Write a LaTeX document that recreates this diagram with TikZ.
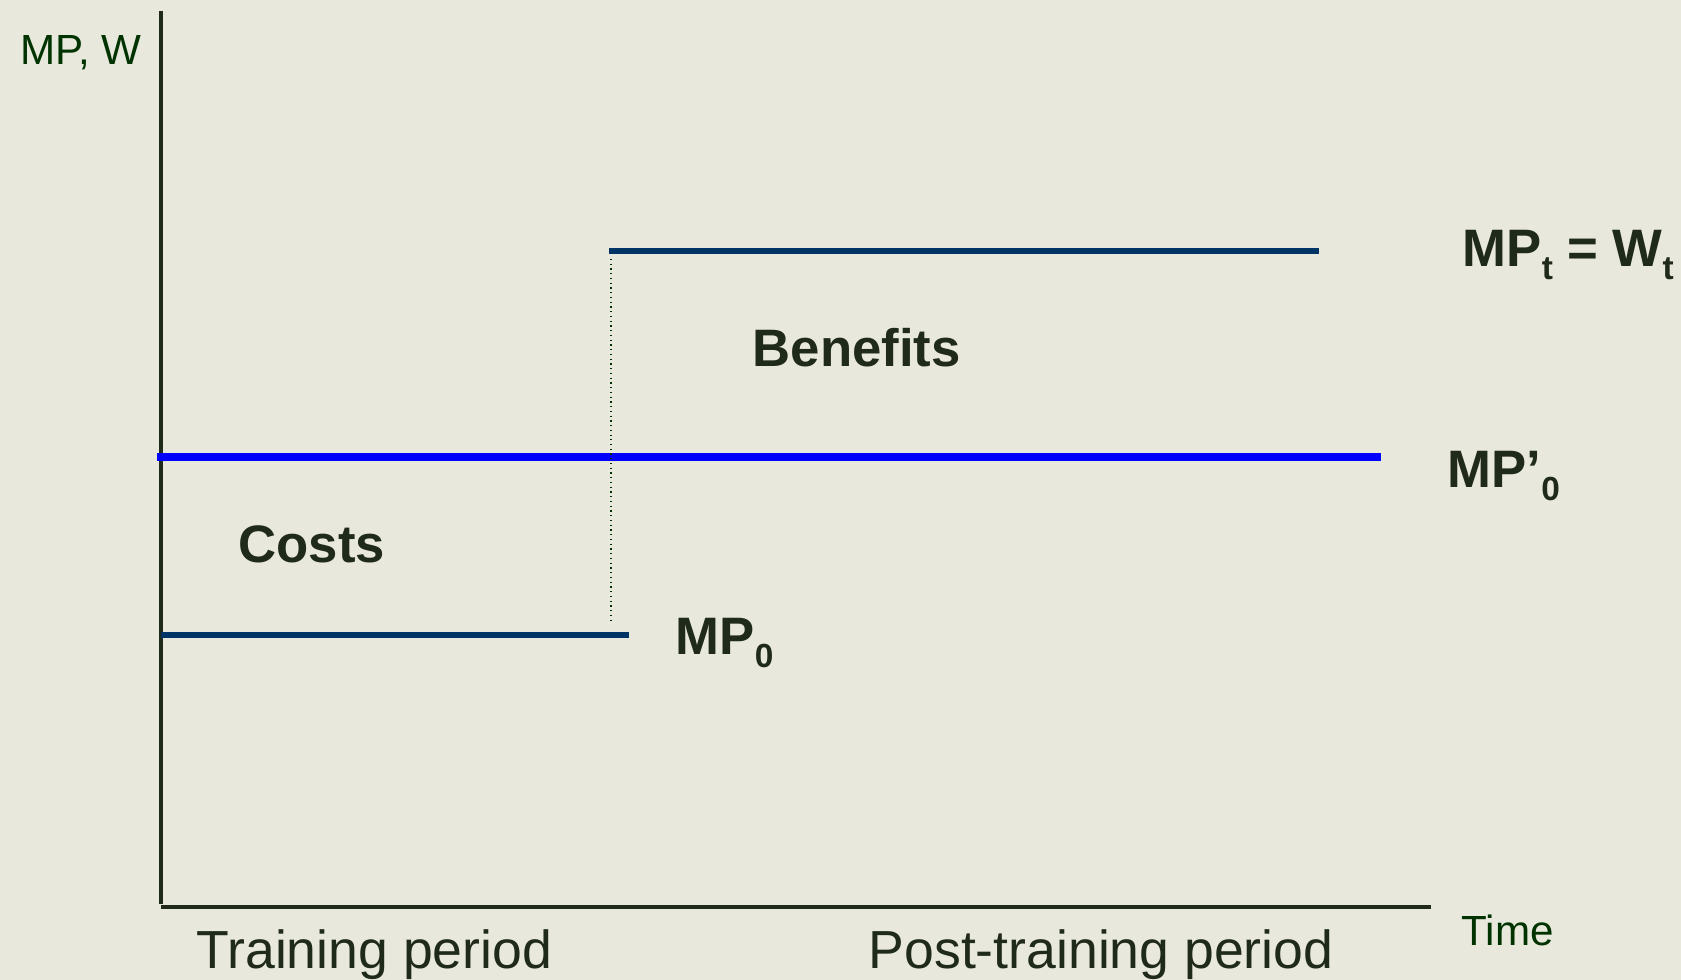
\documentclass[tikz,border=0pt]{standalone}
\usepackage{fontspec}
\setmainfont{Liberation Sans}
\usepackage{tikz}

\definecolor{bg}{HTML}{E8E8DC}
\definecolor{navy}{HTML}{003366}
\definecolor{dkgreen}{HTML}{003300}
\definecolor{ink}{HTML}{1F2A1A}
\newcommand{\lowsub}[1]{\raisebox{-7.4pt}{\fontsize{19}{19}\selectfont #1}}

\begin{document}
\begin{tikzpicture}[x=0.02cm, y=-0.02cm, thick,
	lab/.style={anchor=base west, inner sep=0pt, text=ink, font=\fontsize{30.5}{30.5}\selectfont},
	boldlab/.style={lab, font=\bfseries\fontsize{30}{30}\selectfont},
	axlab/.style={lab, text=dkgreen, font=\fontsize{24}{24}\selectfont}]
		\fill[bg] (0,0) rectangle (1681,980);
		\useasboundingbox (0,0) rectangle (1681,980);

		\coordinate (ytop) at (161,11);
		\coordinate (ybot) at (161,904);
		\coordinate (O) at (161,907);
		\coordinate (xend) at (1431,907);
		\draw[-, color=ink, line width=2.3pt] (ytop) -- (ybot);
		\draw[-, color=ink, line width=2.3pt] (O) -- (xend);

		\coordinate (mp0a) at (161,635);
		\coordinate (mp0b) at (629,635);
		\draw[-, color=navy, line width=3.4pt] (mp0a) -- (mp0b);

		\coordinate (mpta) at (609,251);
		\coordinate (mptb) at (1319,251);
		\draw[-, color=navy, line width=3.4pt] (mpta) -- (mptb);

		\coordinate (mp1a) at (157,457);
		\coordinate (mp1b) at (1381,457);
		\draw[-, color=blue, line width=4pt] (mp1a) -- (mp1b);

		\coordinate (da) at (611,259);
		\coordinate (db) at (611,623);
		\draw[dotted, color=dkgreen, line width=0.7pt] (da) -- (db);

		\node (mpw) [axlab] at (20,65) {MP, W};
		\node (time) [axlab] at (1461,945) {Time};
		\node (train) [lab] at (196,968) {Training period};
		\node (post) [lab] at (868,968) {Post-training period};
		\node (ben) [boldlab] at (752,366) {Benefits};
		\node (cost) [boldlab] at (238,562) {Costs};
		\node (mp0) [boldlab] at (675,654) {MP\lowsub{0}};
		\node (mp1) [boldlab] at (1447,487) {MP’\lowsub{0}};
		\node (mpt) [boldlab] at (1462,266) {MP\lowsub{t} = W\lowsub{t}};
	\end{tikzpicture}
\end{document}
